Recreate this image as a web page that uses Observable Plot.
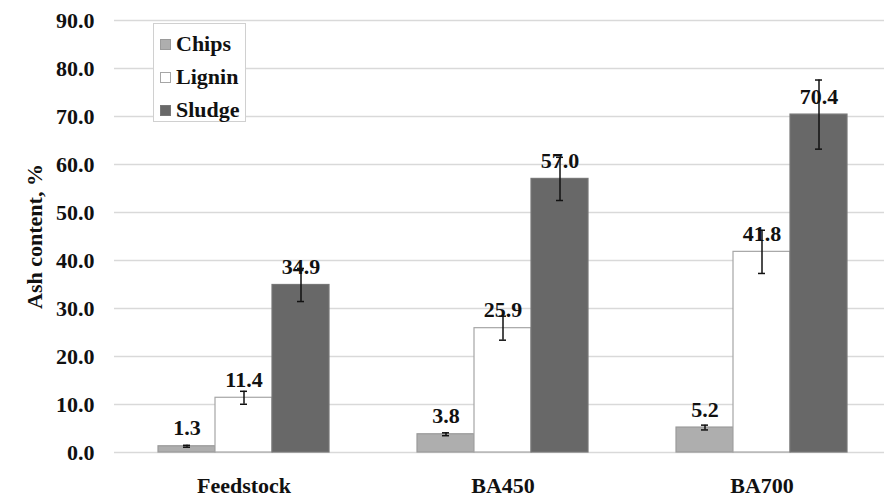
<!DOCTYPE html>
<html>
<head>
<meta charset="utf-8">
<script src="https://cdn.jsdelivr.net/npm/d3@7"></script>
<script src="https://cdn.jsdelivr.net/npm/@observablehq/plot@0.6"></script>
<style>
  body { margin: 0; background: #fff; }
  #wrap { position: relative; width: 884px; height: 499px; overflow: hidden; }
  #wrap svg { max-width: none !important; height: 499px !important; }
  #legend { position: absolute; left: 153px; top: 23px; width: 93px; height: 99px;
    border: 1px solid #d0d0d0; background: #fff; box-sizing: border-box;
    font-family: "Liberation Serif", serif; font-weight: bold; font-size: 22px; color: #111; }
  .item { position: absolute; left: 6px; height: 24px; line-height: 24px; display: flex; align-items: center; }
  .sw { width: 11px; height: 11px; margin-right: 5px; box-sizing: border-box; }
</style>
</head>
<body>
<div id="wrap"></div>
<script>
const groups = ["Feedstock", "BA450", "BA700"];
const series = ["Chips", "Lignin", "Sludge"];
const chips = [1.3, 3.8, 5.2];
const chipsErr = [0.2, 0.3, 0.5];
const lignin = [11.4, 25.9, 41.8];
const ligninErr = [1.35, 2.5, 4.5];
const sludge = [34.9, 57.0, 70.4];
const sludgeErr = [3.45, 4.5, 7.2];
const yTicks = [0, 10, 20, 30, 40, 50, 60, 70, 80, 90];

const fills = {Chips: "#aeaeae", Lignin: "#ffffff", Sludge: "#686868"};
const strokes = {Chips: "#9a9a9a", Lignin: "#a6a6a6", Sludge: "#777777"};

const vals = [chips, lignin, sludge];
const errs = [chipsErr, ligninErr, sludgeErr];
const data = [];
groups.forEach((g, gi) => series.forEach((s, si) => {
  data.push({group: g, series: s, value: vals[si][gi], err: errs[si][gi]});
}));

const chart = Plot.plot({
  width: 892,
  height: 499,
  marginTop: 20,
  marginBottom: 47,
  marginLeft: 113,
  marginRight: 0,
  style: {fontFamily: "'Liberation Serif', serif", fontWeight: "bold", fontSize: "22px", color: "#111", maxWidth: "none"},
  fx: {domain: groups, padding: 0, label: null},
  x: {domain: series, paddingInner: 0, paddingOuter: 0.737, axis: null},
  y: {domain: [0, 90]},
  marks: [
    Plot.gridY(yTicks, {stroke: "#d9d9d9", strokeOpacity: 1, strokeWidth: 1.5}),
    Plot.barY(data, {fx: "group", x: "series", y: "value",
      fill: d => fills[d.series], stroke: d => strokes[d.series], strokeWidth: 1.2}),
    Plot.text(data, {fx: "group", x: "series", y: "value", text: d => d.value.toFixed(1),
      dy: -18, lineAnchor: "middle", fill: "#111", fontSize: 22, fontWeight: "bold"}),
    Plot.ruleX(data, {fx: "group", x: "series", y1: d => d.value - d.err, y2: d => d.value + d.err,
      stroke: "#111", strokeWidth: 1.5}),
    Plot.tickY(data, {fx: "group", x: "series", y: d => d.value - d.err, stroke: "#111", strokeWidth: 1.5, insetLeft: 25, insetRight: 25}),
    Plot.tickY(data, {fx: "group", x: "series", y: d => d.value + d.err, stroke: "#111", strokeWidth: 1.5, insetLeft: 25, insetRight: 25}),
    Plot.axisY(yTicks, {tickSize: 0, tickPadding: 20, tickFormat: d3.format(".1f"), fontSize: 22,
      label: "Ash content, %", labelAnchor: "center", labelArrow: "none", labelOffset: 88}),
    Plot.axisFx({anchor: "bottom", tickSize: 0, tickPadding: 25, label: null, fontSize: 22})
  ]
});
const wrap = document.getElementById("wrap");
wrap.appendChild(chart);

const legend = document.createElement("div");
legend.id = "legend";
series.forEach((s, i) => {
  const it = document.createElement("div");
  it.className = "item";
  it.style.top = (8 + i * 33) + "px";
  const sw = document.createElement("span");
  sw.className = "sw";
  sw.style.background = fills[s];
  sw.style.border = "1px solid " + strokes[s];
  it.appendChild(sw);
  it.appendChild(document.createTextNode(s));
  legend.appendChild(it);
});
wrap.appendChild(legend);
</script>
</body>
</html>
